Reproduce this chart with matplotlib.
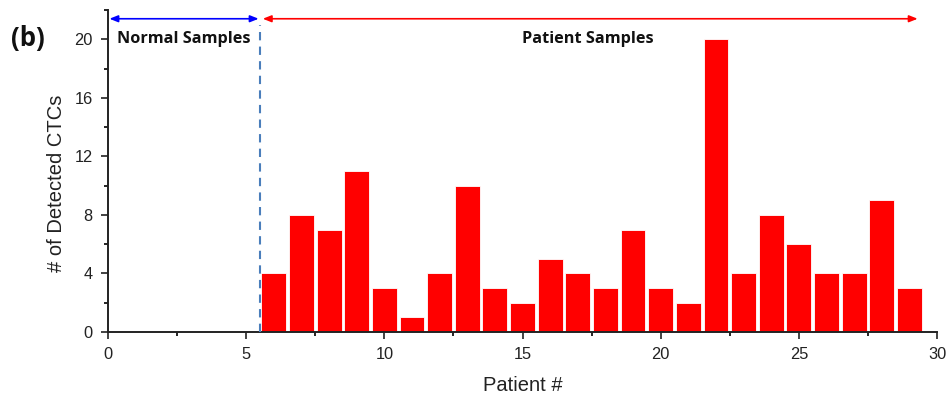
import matplotlib
matplotlib.use("Agg")
import matplotlib.pyplot as plt
from matplotlib.ticker import MultipleLocator

patients = list(range(6, 30))
ctcs = [4, 8, 7, 11, 3, 1, 4, 10, 3, 2, 5, 4, 3, 7, 3, 2, 20, 4, 8, 6, 4, 4, 9, 3]
xticks = [0, 5, 10, 15, 20, 25, 30]
yticks = [0, 4, 8, 12, 16, 20]

plt.rcParams['font.family'] = ['Liberation Sans', 'DejaVu Sans']

fig = plt.figure(figsize=(9.51, 3.99), dpi=100)
ax = fig.add_axes([0.1136, 0.1679, 0.8717, 0.8071])

ax.bar(patients, ctcs, width=0.9, color='#ff0000', edgecolor='white', linewidth=0.6, zorder=2)

ax.set_xlim(0, 30)
ax.set_ylim(0, 22)
ax.set_xticks(xticks)
ax.set_yticks(yticks)
ax.xaxis.set_minor_locator(MultipleLocator(2.5))
ax.yaxis.set_minor_locator(MultipleLocator(2))
ax.tick_params(which='major', direction='out', length=5, width=1.2, labelsize=11.8, colors='#222222')
ax.tick_params(axis='x', which='major', pad=6)
ax.tick_params(axis='y', which='major', pad=6)
ax.tick_params(which='minor', direction='out', length=3, width=1.2)
for s in ['top', 'right']:
    ax.spines[s].set_visible(False)
for s in ['left', 'bottom']:
    ax.spines[s].set_linewidth(1.4)
    ax.spines[s].set_color('#222222')

ax.set_xlabel('Patient #', fontsize=14.5, color='#222222', labelpad=10)
ax.set_ylabel('# of Detected CTCs', fontsize=14.5, color='#222222')
ax.yaxis.set_label_coords(-0.051, 0.463)

# divider
ax.plot([5.5, 5.5], [0, 21.0], linestyle=(0, (4, 3)), color='#4a7ebb', linewidth=1.5, zorder=3)

# arrows
ax.annotate('', xy=(0.05, 21.4), xytext=(5.45, 21.4),
            arrowprops=dict(arrowstyle='<|-|>,head_length=0.5,head_width=0.2', color='#0000ff', lw=1.2,
                            shrinkA=0, shrinkB=0), annotation_clip=False)
ax.annotate('', xy=(5.6, 21.4), xytext=(29.3, 21.4),
            arrowprops=dict(arrowstyle='<|-|>,head_length=0.5,head_width=0.2', color='#ff0000', lw=1.2,
                            shrinkA=0, shrinkB=0), annotation_clip=False)

ax.text(2.75, 20.05, 'Normal Samples', ha='center', va='center', fontsize=11.7, fontweight='bold',
        family=['Open Sans', 'DejaVu Sans'], color='#111111')
ax.text(17.35, 20.05, 'Patient Samples', ha='center', va='center', fontsize=11.7, fontweight='bold',
        family=['Open Sans', 'DejaVu Sans'], color='#111111')

fig.text(0.029, 0.903, '(b)', fontsize=18.5, fontweight='bold', ha='center', va='center',
         family=['Open Sans', 'DejaVu Sans'], color='#111111')

fig.savefig('out.png', dpi=100)
